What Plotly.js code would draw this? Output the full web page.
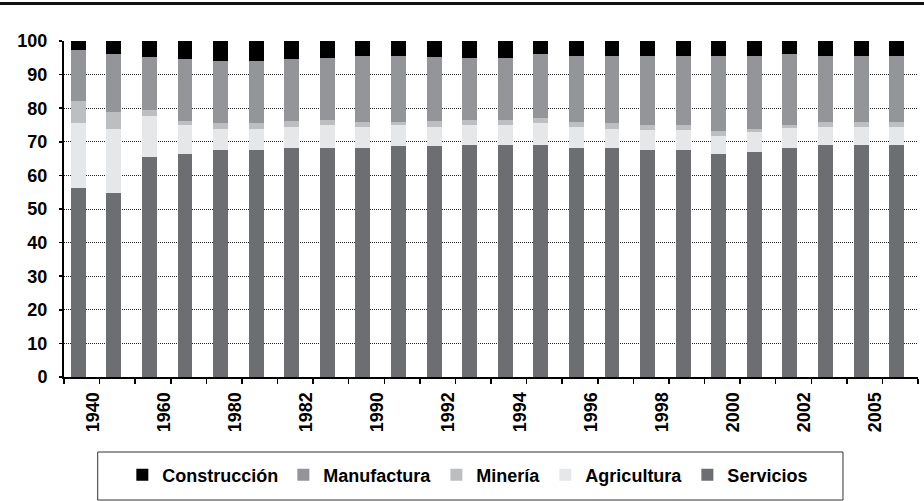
<!DOCTYPE html>
<html>
<head>
<meta charset="utf-8">
<script src="https://cdn.plot.ly/plotly-3.0.1.min.js"></script>
<style>
html,body{margin:0;padding:0;background:#fff;}
#chart{width:924px;height:501px;}
</style>
</head>
<body>
<div id="chart"></div>
<script>
// Categories (years); only every other one is labelled in the original
const years = ["1940","1950","1960","1970","1980","1981","1982","1985","1990","1991","1992","1993","1994","1995","1996","1997","1998","1999","2000","2001","2002","2004","2005","2006"];
const tickLabels = ["1940","","1960","","1980","","1982","","1990","","1992","","1994","","1996","","1998","","2000","","2002","","2005",""];

const servicios    = [56.3,54.8,65.5,66.4,67.6,67.6,68.2,68.2,68.2,68.8,68.8,69.0,69.0,69.0,68.2,68.2,67.6,67.6,66.4,67.0,68.2,69.0,69.0,69.0];
const agricultura  = [19.4,19.0,12.2, 8.6, 6.2, 6.2, 6.2, 6.8, 6.2, 6.2, 5.6, 6.0, 6.0, 6.6, 6.2, 5.6, 5.9, 5.9, 5.3, 5.9, 5.9, 5.4, 5.4, 5.4];
const mineria      = [ 6.5, 5.1, 1.8, 1.2, 1.8, 1.8, 1.8, 1.5, 1.5, 0.9, 1.8, 1.5, 1.5, 1.5, 1.5, 1.8, 1.5, 1.5, 1.5, 0.9, 0.9, 1.5, 1.5, 1.5];
const manufactura  = [15.2,17.2,15.7,18.4,18.4,18.4,18.4,18.5,19.6,19.6,19.0,18.4,18.4,19.0,19.6,19.9,20.5,20.5,22.3,21.7,21.1,19.6,19.6,19.6];
const construccion = [ 2.7, 3.9, 4.8, 5.4, 6.0, 6.0, 5.4, 5.0, 4.5, 4.5, 4.8, 5.1, 5.1, 3.9, 4.5, 4.5, 4.5, 4.5, 4.5, 4.5, 3.9, 4.5, 4.5, 4.5];

const yTicks = [0,10,20,30,40,50,60,70,80,90,100];

const FONT = '"Liberation Sans Narrow","Arial Narrow","Liberation Sans",Arial,sans-serif';

function series(name, vals, color){
  return {type:'bar', name:name, x:years, y:vals,
          width: 0.42, offset: -0.31,
          marker:{color:color, line:{width:0}}, hoverinfo:'x+y+name'};
}

const data = [
  series('Servicios', servicios, '#6d6e71'),
  series('Agricultura', agricultura, '#e6e7e8'),
  series('Minería', mineria, '#bcbec0'),
  series('Manufactura', manufactura, '#939598'),
  series('Construcción', construccion, '#000000')
];

const L = 64.3, R = 918, T = 41, B = 377, W = 924, H = 501;
const pw = R - L, ph = B - T;
const px = v => (v - L) / pw;
const py = v => (B - v) / ph;

const layout = {
  width: W, height: H,
  margin: {l: L, r: W - R, t: T, b: H - B, pad: 0},
  paper_bgcolor: '#fff', plot_bgcolor: '#fff',
  barmode: 'stack',
  showlegend: true,
  font: {family: FONT, color: '#000', size: 18, weight: 'bold'},
  xaxis: {
    type: 'category',
    tickmode: 'array', tickvals: years, ticktext: tickLabels,
    tickson: 'boundaries',
    ticks: 'outside', ticklen: 5, tickwidth: 1.5, tickcolor: '#000',
    tickangle: -90,
    ticklabelshift: 11,
    ticklabelstandoff: 6,
    tickfont: {family: FONT, size: 18, weight: 'bold', color: '#000'},
    showline: true, linecolor: '#000', linewidth: 2,
    showgrid: false, zeroline: false, fixedrange: true
  },
  yaxis: {
    range: [0, 100],
    tickmode: 'array', tickvals: yTicks,
    ticks: 'outside', ticklen: 3, tickwidth: 1.5, tickcolor: '#000',
    ticklabelstandoff: 8,
    tickfont: {family: FONT, size: 18, weight: 'bold', color: '#000'},
    showline: true, linecolor: '#000', linewidth: 2,
    showgrid: true, gridcolor: '#222', gridwidth: 1, griddash: '1px,1px',
    zeroline: false, fixedrange: true
  },
  legend: {
    orientation: 'h', traceorder: 'reversed',
    x: px(468), xanchor: 'center',
    y: py(475), yanchor: 'middle',
    font: {family: FONT, size: 18, weight: 'bold', color: '#000'},
    bgcolor: 'rgba(0,0,0,0)', borderwidth: 0,
    itemclick: false, itemdoubleclick: false
  },
  shapes: [
    {type: 'rect', xref: 'paper', yref: 'paper',
     x0: px(98), x1: px(843), y0: py(500), y1: py(452),
     line: {color: '#333', width: 1}, fillcolor: 'rgba(0,0,0,0)', layer: 'below'},
    {type: 'line', xref: 'paper', yref: 'paper',
     x0: px(0), x1: px(924), y0: py(3.5), y1: py(3.5),
     line: {color: '#111', width: 3}}
  ]
};

Plotly.newPlot('chart', data, layout, {displayModeBar: false, staticPlot: true});
</script>
</body>
</html>
